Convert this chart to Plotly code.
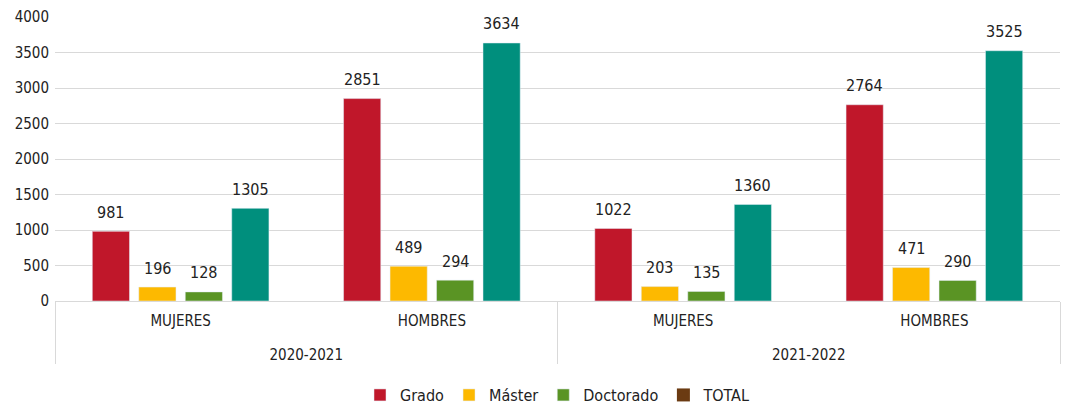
import plotly.graph_objects as go

years = ["2020-2021", "2020-2021", "2021-2022", "2021-2022"]
sexes = ["MUJERES", "HOMBRES", "MUJERES", "HOMBRES"]
grado = [981, 2851, 1022, 2764]
master = [196, 489, 203, 471]
doctorado = [128, 294, 135, 290]
total = [1305, 3634, 1360, 3525]
y_ticks = [0, 500, 1000, 1500, 2000, 2500, 3000, 3500, 4000]

FONT = "DejaVu Sans Condensed, Roboto, sans-serif"
BARGAP = 0.26
x = [["<br>" + yv for yv in years], sexes]

series = [
    ("Grado", grado, "#C0172A"),
    ("Máster", master, "#FDB900"),
    ("Doctorado", doctorado, "#5A9424"),
    ("TOTAL", total, "#008F7D"),
]

fig = go.Figure()
for name, vals, color in series:
    fig.add_trace(go.Bar(x=x, y=vals, name=name, marker_color=color,
                         showlegend=(name != "TOTAL")))
fig.add_trace(go.Scatter(x=[None], y=[None], mode="markers", name="TOTAL",
                         marker=dict(symbol="square", size=13, color="#6B3B12")))

# value labels above each bar, placed on the category axis index scale
n = len(series)
slot = (1 - BARGAP) / n
annotations = []
for k, (name, vals, color) in enumerate(series):
    for i, v in enumerate(vals):
        annotations.append(dict(x=i + (k - (n - 1) / 2) * slot, y=v, xref="x", yref="y",
                                text=str(v), showarrow=False, yanchor="middle",
                                yshift=19, font=dict(size=16, color="#222")))

fig.update_layout(
    width=1067, height=406,
    margin=dict(l=55, r=7, t=17, b=105),
    paper_bgcolor="white", plot_bgcolor="white",
    font=dict(family=FONT, size=16, color="#222"),
    barmode="group", bargap=BARGAP, bargroupgap=0.2,
    annotations=annotations,
    legend=dict(orientation="h", x=0.5, xanchor="center", y=0.027, yanchor="middle",
                yref="container", font=dict(size=16), itemwidth=30,
                traceorder="normal"),
    xaxis=dict(type="multicategory", showline=True, linecolor="#D9D9D9",
               showdividers=True, dividercolor="#D9D9D9", dividerwidth=1,
               tickfont=dict(size=15), automargin=False, ticklabelstandoff=6),
    yaxis=dict(range=[0, 4000], tickvals=y_ticks, showgrid=True,
               gridcolor="#D9D9D9", zeroline=False, tickfont=dict(size=15),
               automargin=False, ticklabelstandoff=5),
)
fig.write_html("out.html", config={"displayModeBar": False},
               post_script="document.body.style.margin='0';")
